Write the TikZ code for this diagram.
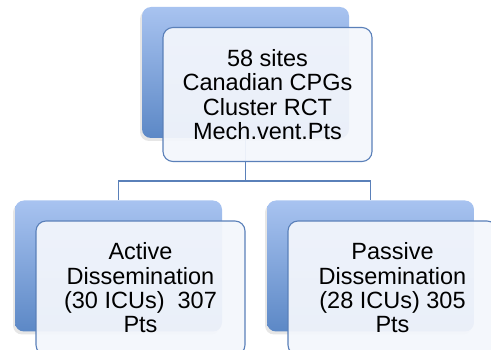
\documentclass[tikz,border=0pt]{standalone}
\usepackage{fontspec}
\setmainfont{Liberation Sans}
\usepackage{xcolor}
\usetikzlibrary{positioning, backgrounds, shadows}
\definecolor{backtop}{HTML}{A8C3F0}
\definecolor{backbot}{HTML}{5C88C6}
\definecolor{edgeblue}{HTML}{5A80B9}
\definecolor{frontfill}{HTML}{F3F6FC}

\begin{document}
\begin{tikzpicture}[
  x=1pt, y=-1pt,
  backbox/.style={rectangle, rounded corners=9pt, minimum width=207pt, minimum height=131pt,
                  top color=backtop, bottom color=backbot, draw=none,
                  drop shadow={shadow xshift=-2pt, shadow yshift=-3pt, opacity=0.2}},
  frontbox/.style={rectangle, draw=edgeblue, line width=1.1pt, rounded corners=10pt,
                   fill=frontfill, fill opacity=0.94, text opacity=1,
                   minimum width=209pt, minimum height=134pt, align=center,
                   inner sep=2pt, font=\fontsize{23.5}{24.3}\selectfont},
  link/.style={draw=edgeblue, line width=1.1pt}
]
\useasboundingbox (0,0) rectangle (491,350);
\clip (0,0) rectangle (491,350);
\node[backbox] (siteback) at (245.5,72.5) {};
\node[backbox] (activeback) at (118.5,266) {};
\node[backbox] (passiveback) at (370.5,266) {};
\coordinate (split) at (245.5,181);
\begin{scope}[on background layer]
\draw[link] (siteback.south) -- (split);
\draw[link] (split) -| (activeback.north);
\draw[link] (split) -| (passiveback.north);
\end{scope}
\node[frontbox] (site) at ([shift={(22,22)}]siteback.center) {58 sites\\Canadian CPGs\\Cluster RCT\\Mech.vent.Pts};
\node[frontbox] (active) at ([shift={(22,22)}]activeback.center) {Active\\Dissemination\\(30 ICUs)\ \ 307\\Pts};
\node[frontbox] (passive) at ([shift={(22,22)}]passiveback.center) {Passive\\Dissemination\\(28 ICUs) 305\\Pts};
\end{tikzpicture}
\end{document}
